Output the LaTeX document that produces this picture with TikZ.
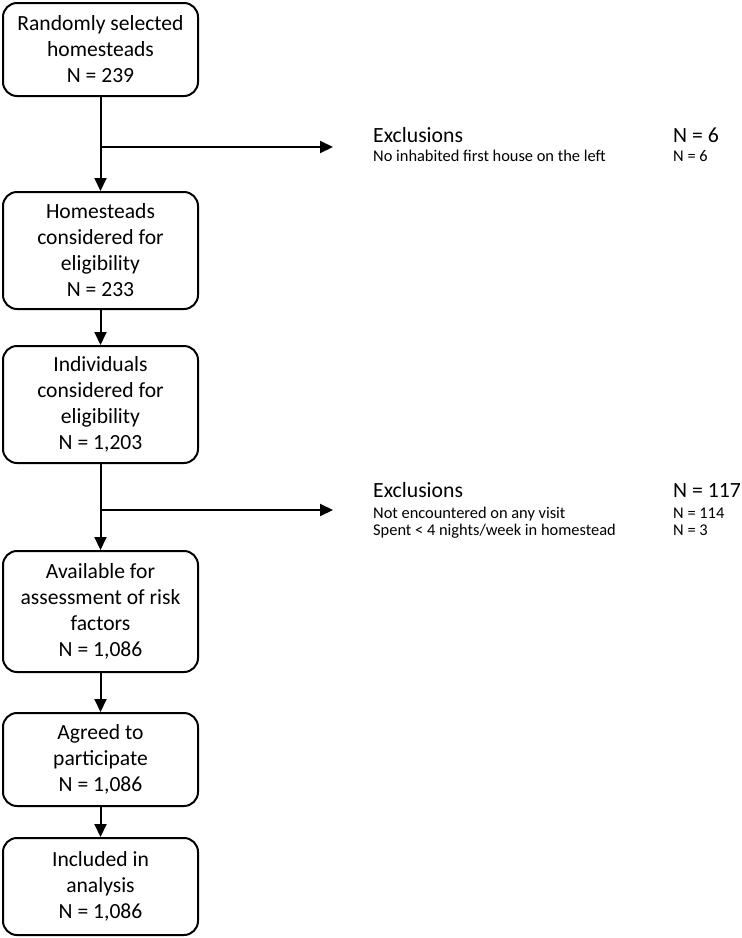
\documentclass[tikz,border=0pt]{standalone}
\usepackage{fontspec}
\setmainfont{Carlito}
\usetikzlibrary{arrows.meta}
\tikzset{
  box/.style={draw, line width=2pt, rounded corners=14pt, minimum width=195pt,
    align=center, inner sep=0pt, font=\fontsize{21.6}{26}\selectfont},
  flow/.style={line width=2pt, -{Triangle[length=13pt,width=12pt]}},
  bigtext/.style={anchor=base west, inner sep=0pt, font=\fontsize{21.7}{26}\selectfont},
  smalltext/.style={anchor=base west, inner sep=0pt, font=\fontsize{16.4}{19}\selectfont},
}
\begin{document}
\begin{tikzpicture}[x=1pt,y=-1pt]
  \useasboundingbox (0,0) rectangle (742,938);

  \node [box, minimum height=93pt] (sel) at (100.5,49.5) {Randomly selected\\homesteads\\N = 239};
  \node [box, minimum height=117pt] (hom) at (100.5,250.5) {Homesteads\\considered for\\eligibility\\N = 233};
  \node [box, minimum height=117pt] (ind) at (100.5,404.5) {Individuals\\considered for\\eligibility\\N = 1,203};
  \node [box, minimum height=121pt] (avail) at (100.5,611.5) {Available for\\assessment of risk\\factors\\N = 1,086};
  \node [box, minimum height=93pt] (agree) at (100.5,759.5) {Agreed to\\participate\\N = 1,086};
  \node [box, minimum height=97pt] (incl) at (100.5,886.5) {Included in\\analysis\\N = 1,086};

  \draw [flow] (sel) -- (hom);
  \draw [flow] (hom) -- (ind);
  \draw [flow] (ind) -- (avail);
  \draw [flow] (avail) -- (agree);
  \draw [flow] (agree) -- (incl);

  \coordinate (fork1) at (100.5,147);
  \coordinate (out1) at (333,147);
  \draw [flow] (fork1) -- (out1);
  \coordinate (fork2) at (100.5,510);
  \coordinate (out2) at (333,510);
  \draw [flow] (fork2) -- (out2);

  \node [bigtext] (exA) at (373,142) {Exclusions};
  \node [bigtext] (exAn) at (673,142) {N = 6};
  \node [smalltext] (exA1) at (373,161) {No inhabited first house on the left};
  \node [smalltext] (exA1n) at (673,161) {N = 6};

  \node [bigtext] (exB) at (373,497) {Exclusions};
  \node [bigtext] (exBn) at (673,497) {N = 117};
  \node [smalltext] (exB1) at (373,518) {Not encountered on any visit};
  \node [smalltext] (exB1n) at (673,518) {N = 114};
  \node [smalltext] (exB2) at (373,535) {Spent < 4 nights/week in homestead};
  \node [smalltext] (exB2n) at (673,535) {N = 3};
\end{tikzpicture}
\end{document}
